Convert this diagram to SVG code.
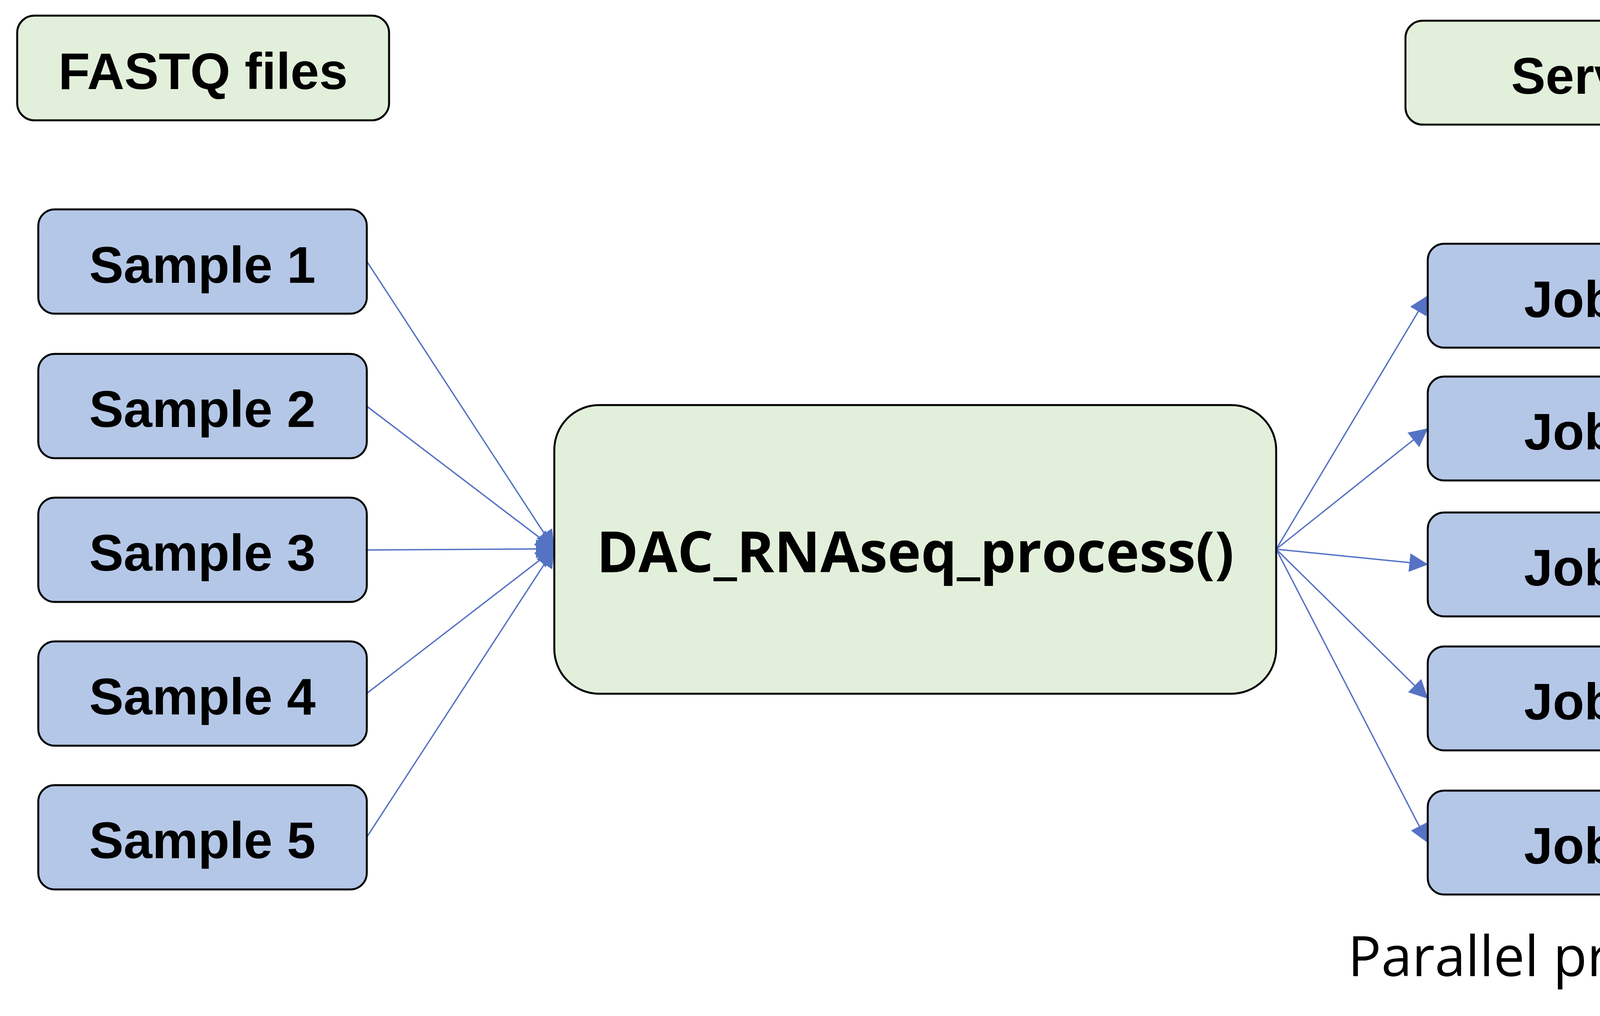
<svg xmlns="http://www.w3.org/2000/svg" width="6418" height="2601" viewBox="0 0 6418 2601">
<style>
.green{fill:#E2EFDA;stroke:#000;stroke-width:5}
.blue{fill:#B4C7E7;stroke:#000;stroke-width:5}
.lbl{font-family:"Liberation Sans",Arial,sans-serif;font-weight:bold;font-size:132px;text-anchor:middle;fill:#000}
.conn{stroke:#5572C4;stroke-width:3.5;fill:none;marker-end:url(#arr)}
.axis{stroke:#000;stroke-width:4;fill:none}
.dots{stroke:#000;stroke-width:4;stroke-dasharray:3.2 3;fill:none}
</style>
<defs>
<marker id="arr" markerUnits="userSpaceOnUse" viewBox="0 0 48 48" refX="47" refY="24" markerWidth="48" markerHeight="48" orient="auto">
<path d="M0,0 L48,24 L0,48 z" fill="#5572C4"/>
</marker>
<marker id="blk" markerUnits="userSpaceOnUse" viewBox="0 0 30 50" refX="29" refY="25" markerWidth="30" markerHeight="50" orient="auto">
<path d="M0,0 L30,25 L0,50 z" fill="#000"/>
</marker>
</defs>
<rect width="6418" height="2601" fill="#fff"/>

<g id="connectors">
<line class="conn" x1="939" y1="669" x2="1419" y2="1405"/>
<line class="conn" x1="939" y1="1040" x2="1419" y2="1405"/>
<line class="conn" x1="939" y1="1408" x2="1419" y2="1405"/>
<line class="conn" x1="939" y1="1775" x2="1419" y2="1405"/>
<line class="conn" x1="939" y1="2143" x2="1419" y2="1405"/>
<line class="conn" x1="3267" y1="1406" x2="3655" y2="757"/>
<line class="conn" x1="3267" y1="1406" x2="3655" y2="1097"/>
<line class="conn" x1="3267" y1="1406" x2="3655" y2="1445"/>
<line class="conn" x1="3267" y1="1406" x2="3655" y2="1788"/>
<line class="conn" x1="3267" y1="1406" x2="3655" y2="2157"/>
<line class="conn" x1="4493" y1="757" x2="5163" y2="1364"/>
<line class="conn" x1="4493" y1="1097" x2="5163" y2="1364"/>
<line class="conn" x1="4493" y1="1445" x2="5163" y2="1364"/>
<line class="conn" x1="4493" y1="1788" x2="5163" y2="1364"/>
<line class="conn" x1="4493" y1="2157" x2="5163" y2="1364"/>
</g>

<g id="fastq-files">
<rect class="green" x="44" y="40" width="952" height="268" rx="44" ry="44"/>
<text class="lbl" x="520" y="228">FASTQ files</text>
</g>
<g id="server">
<rect class="green" x="3598" y="53" width="952" height="266" rx="44" ry="44"/>
<text class="lbl" x="4074" y="240">Server</text>
</g>

<g id="sample1"><rect class="blue" x="98" y="536" width="841" height="267" rx="42" ry="42"/><text class="lbl" x="518" y="724">Sample 1</text></g>
<g id="sample2"><rect class="blue" x="98" y="906" width="841" height="267" rx="42" ry="42"/><text class="lbl" x="518" y="1093">Sample 2</text></g>
<g id="sample3"><rect class="blue" x="98" y="1274" width="841" height="267" rx="42" ry="42"/><text class="lbl" x="518" y="1461">Sample 3</text></g>
<g id="sample4"><rect class="blue" x="98" y="1642" width="841" height="267" rx="42" ry="42"/><text class="lbl" x="518" y="1829">Sample 4</text></g>
<g id="sample5"><rect class="blue" x="98" y="2010" width="841" height="267" rx="42" ry="42"/><text class="lbl" x="518" y="2197">Sample 5</text></g>

<g id="dac-process">
<rect class="green" x="1419" y="1037" width="1848" height="739" rx="115" ry="115"/>
<text x="2343" y="1465" font-family="'Open Sans','Liberation Sans',sans-serif" font-weight="bold" font-size="145" text-anchor="middle" fill="#000">DAC_RNAseq_process()</text>
</g>

<g id="job1"><rect class="blue" x="3655" y="624" width="838" height="266" rx="42" ry="42"/><text class="lbl" x="4074" y="812">Job 1</text></g>
<g id="job2"><rect class="blue" x="3655" y="964" width="838" height="266" rx="42" ry="42"/><text class="lbl" x="4074" y="1151">Job 2</text></g>
<g id="job3"><rect class="blue" x="3655" y="1312" width="838" height="266" rx="42" ry="42"/><text class="lbl" x="4074" y="1499">Job 3</text></g>
<g id="job4"><rect class="blue" x="3655" y="1655" width="838" height="266" rx="42" ry="42"/><text class="lbl" x="4074" y="1842">Job 4</text></g>
<g id="job5"><rect class="blue" x="3655" y="2024" width="838" height="266" rx="42" ry="42"/><text class="lbl" x="4074" y="2211">Job 5</text></g>

<g id="parallel-label">
<text x="4070" y="2499" font-family="'Open Sans','Liberation Sans',sans-serif" font-size="142" text-anchor="middle" fill="#000">Parallel processing</text>
</g>

<g id="matrix">
<path class="dots" d="M5402,1034V1829M5465,1034V1829M5527,1034V1829M5589,1034V1829M5651,1034V1829M5715,1034V1829M5777,1034V1829M5839,1034V1829M5901,1034V1829M5963,1034V1829M6025,1034V1829M6091,1034V1829M6155,1034V1829M6217,1034V1829M6280,1034V1829"/>
<path class="dots" d="M5336,1090H6328M5336,1151H6328M5336,1208H6328M5336,1265H6328M5336,1327H6328M5336,1384H6328M5336,1441H6328M5336,1500H6328M5336,1556H6328M5336,1609H6328M5336,1668H6328M5336,1726H6328M5336,1777H6328"/>
<line class="axis" x1="5330" y1="1029" x2="6352" y2="1029" marker-end="url(#blk)"/>
<line class="axis" x1="5332" y1="1031" x2="5332" y2="1831" marker-end="url(#blk)"/>
<text x="5814" y="987" font-family="'Liberation Sans',Arial,sans-serif" font-size="90" text-anchor="middle" fill="#000">Samples</text>
<text transform="translate(5285,1424) rotate(-90)" font-family="'Liberation Sans',Arial,sans-serif" font-size="90" text-anchor="middle" fill="#000">Genes</text>
</g>
</svg>
